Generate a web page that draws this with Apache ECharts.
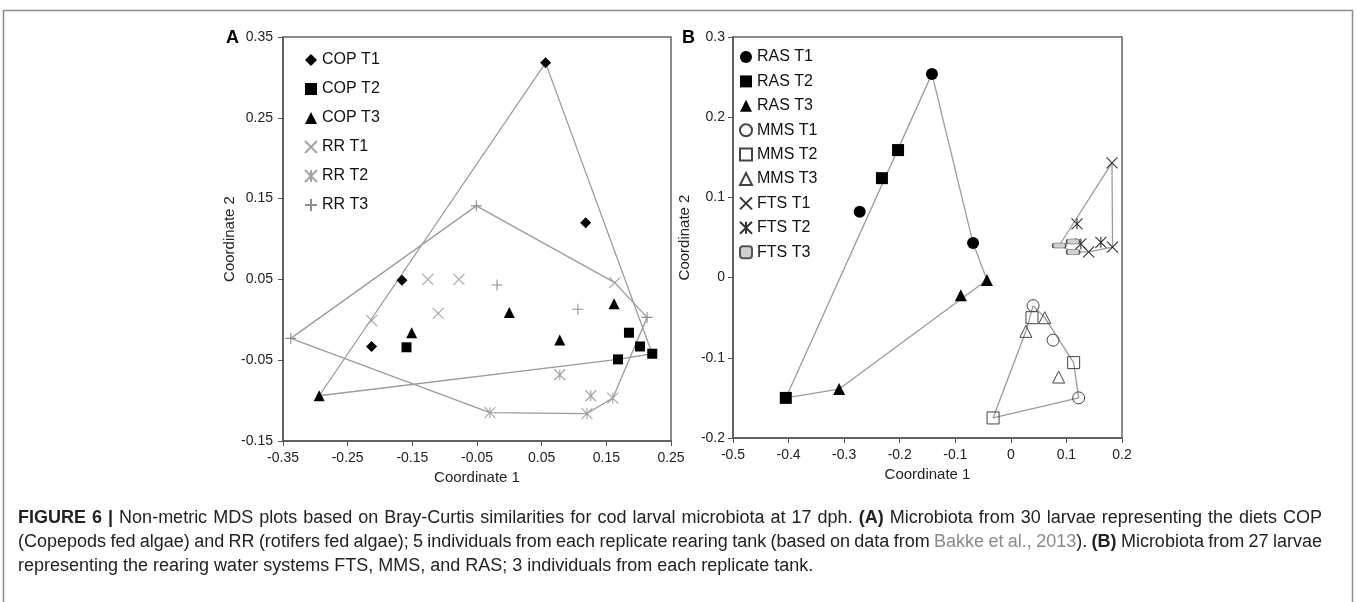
<!DOCTYPE html>
<html><head><meta charset="utf-8">
<script src="https://cdn.jsdelivr.net/npm/echarts@6/dist/echarts.min.js"></script>
<style>html,body{margin:0;padding:0;background:#fff}#c{width:1357px;height:602px}</style>
</head><body><div id="c"></div>
<script>
// ---------- Panel A data (Coordinate 1, Coordinate 2) ----------
const copT1 = [[0.056,0.318],[0.118,0.120],[-0.166,0.049],[-0.213,-0.033]];
const copT2 = [[-0.159,-0.034],[0.185,-0.016],[0.202,-0.033],[0.221,-0.042],[0.168,-0.049]];
const copT3 = [[-0.151,-0.016],[-0.294,-0.094],[0.000,0.009],[0.078,-0.025],[0.162,0.020]];
const rrT1  = [[-0.126,0.050],[-0.078,0.050],[-0.110,0.008],[-0.213,-0.001],[0.163,0.046]];
const rrT2  = [[0.078,-0.068],[0.126,-0.094],[0.160,-0.097],[0.120,-0.116],[-0.030,-0.115]];
const rrT3  = [[-0.338,-0.023],[-0.051,0.141],[-0.019,0.043],[0.106,0.013],[0.213,0.003]];
const copHull = [copT1[0], copT2[3], copT2[4], copT3[1], copT1[0]];
const rrHull  = [rrT3[0], rrT3[1], rrT1[4], rrT3[4], rrT2[2], rrT2[3], rrT2[4], rrT3[0]];
const ticksA_x = [-0.35,-0.25,-0.15,-0.05,0.05,0.15,0.25];
const ticksA_y = [-0.15,-0.05,0.05,0.15,0.25,0.35];

// ---------- Panel B data ----------
const rasT1 = [[-0.142,0.254],[-0.272,0.082],[-0.068,0.043]];
const rasT2 = [[-0.203,0.159],[-0.232,0.124],[-0.405,-0.150]];
const rasT3 = [[-0.043,-0.003],[-0.090,-0.022],[-0.309,-0.139]];
const mmsT1 = [[0.040,-0.035],[0.076,-0.078],[0.122,-0.150]];
const mmsT2 = [[0.038,-0.050],[0.113,-0.106],[-0.032,-0.175]];
const mmsT3 = [[0.061,-0.050],[0.027,-0.067],[0.086,-0.124]];
const ftsT1 = [[0.182,0.143],[0.183,0.038],[0.140,0.032]];
const ftsT2 = [[0.119,0.067],[0.162,0.044],[0.126,0.042]];
const ftsT3 = [[0.087,0.040],[0.112,0.045],[0.112,0.032]];
const rasHull = [rasT1[0], rasT1[2], rasT3[0], rasT3[2], rasT2[2], rasT1[0]];
const mmsHull = [mmsT1[0], mmsT3[0], mmsT2[1], mmsT1[2], mmsT2[2], mmsT3[1], mmsT1[0]];
const ftsHull = [ftsT1[0], ftsT1[1], ftsT1[2], ftsT3[2], ftsT3[0], ftsT1[0]];

const legendA = ['COP T1','COP T2','COP T3','RR T1','RR T2','RR T3'];
const legendB = ['RAS T1','RAS T2','RAS T3','MMS T1','MMS T2','MMS T3','FTS T1','FTS T2','FTS T3'];

// caption: segments [style, text]; b = bold, n = normal, g = grey link
const captionLines = [
  [['b','FIGURE 6 |'],['n',' Non-metric MDS plots based on Bray-Curtis similarities for cod larval microbiota at 17 dph. '],['b','(A)'],['n',' Microbiota from 30 larvae representing the diets COP']],
  [['n','(Copepods fed algae) and RR (rotifers fed algae); 5 individuals from each replicate rearing tank (based on data from '],['g','Bakke et al., 2013'],['n','). '],['b','(B)'],['n',' Microbiota from 27 larvae']],
  [['n','representing the rearing water systems FTS, MMS, and RAS; 3 individuals from each replicate tank.']]
];

const FONT = '"Liberation Sans", Arial, sans-serif';
const CAP_SIZE = 18;
const CAP_LEFT = 18, CAP_RIGHT = 1322, CAP_TOP = 518, CAP_LH = 24;
const HULL = '#9b9b9b';
const CROSS = 'path://M0,0L10,10M0,10L10,0';
const STAR = 'path://M0,0L10,10M0,10L10,0M5,0L5,10';
const PLUS = 'path://M5,0L5,10M0,5L10,5';
const NOFILL = 'rgba(0,0,0,0)';

function sc(name, data, gi, symbol, size, fill, stroke, bw) {
  return {type:'scatter', name, data, xAxisIndex:gi, yAxisIndex:gi, symbol, symbolSize:size,
    itemStyle:{color:fill, borderColor:stroke, borderWidth:bw, opacity:1}, z:4, silent:true};
}
function hull(data, gi) {
  return {type:'line', data, xAxisIndex:gi, yAxisIndex:gi, symbol:'none', silent:true,
    lineStyle:{color:HULL, width:1.3}, z:2};
}
function fmtA(v){ return v.toFixed(2); }
function fmtB(v){ return Math.abs(v) < 1e-9 ? '0' : (+v.toFixed(1)).toString(); }

// ---------- justified caption layout ----------
const mctx = document.createElement('canvas').getContext('2d');
function capFont(st){ return (st === 'b' ? 'bold ' : '') + CAP_SIZE + 'px ' + FONT; }
function capFill(st){ return st === 'g' ? '#8a8a8a' : '#222'; }
function measure(st, txt){ mctx.font = capFont(st); return mctx.measureText(txt).width; }
function toWords(segs){
  const words = []; let cur = [];
  segs.forEach(([st, txt]) => {
    txt.split(' ').forEach((p, i) => {
      if (i > 0) { if (cur.length) words.push(cur); cur = []; }
      if (p) cur.push([st, p]);
    });
  });
  if (cur.length) words.push(cur);
  return words;
}
const captionGraphics = [];
captionLines.forEach((segs, li) => {
  const words = toWords(segs);
  const wWidths = words.map(w => w.reduce((s, [st, t]) => s + measure(st, t), 0));
  const space = measure('n', ' ');
  const natural = wWidths.reduce((a, b) => a + b, 0) + space * (words.length - 1);
  const justify = li < captionLines.length - 1;
  const gap = justify ? space + (CAP_RIGHT - CAP_LEFT - natural) / (words.length - 1) : space;
  let x = CAP_LEFT;
  words.forEach((w, wi) => {
    let px = x;
    w.forEach(([st, t]) => {
      captionGraphics.push({type:'text', x:px, y:CAP_TOP + li * CAP_LH, silent:true,
        style:{text:t, font:capFont(st), fill:capFill(st), verticalAlign:'middle'}});
      px += measure(st, t);
    });
    x += wWidths[wi] + gap;
  });
});

const axisCommon = {
  axisLine:{show:true, onZero:false, lineStyle:{color:'#555', width:1.5}},
  axisTick:{show:true, inside:false, length:5, lineStyle:{color:'#555', width:1}},
  splitLine:{show:false},
  axisLabel:{color:'#222', fontSize:14, fontFamily:FONT},
  nameTextStyle:{color:'#222', fontSize:15, fontFamily:FONT},
  nameLocation:'middle'
};

const option = {
  animation:false,
  backgroundColor:'#fff',
  grid:[
    {left:283, top:37, width:388, height:404, show:true, borderColor:'#666', borderWidth:1.5},
    {left:733, top:37, width:389, height:401, show:true, borderColor:'#666', borderWidth:1.5}
  ],
  xAxis:[
    Object.assign({}, axisCommon, {type:'value', gridIndex:0, min:-0.35, max:0.25, name:'Coordinate 1', nameGap:23,
      axisLabel:Object.assign({}, axisCommon.axisLabel, {margin:10, customValues:ticksA_x, formatter:fmtA}),
      axisTick:Object.assign({}, axisCommon.axisTick, {customValues:ticksA_x})}),
    Object.assign({}, axisCommon, {type:'value', gridIndex:1, min:-0.5, max:0.2, interval:0.1, name:'Coordinate 1', nameGap:24,
      axisLabel:Object.assign({}, axisCommon.axisLabel, {margin:10, formatter:fmtB})})
  ],
  yAxis:[
    Object.assign({}, axisCommon, {type:'value', gridIndex:0, min:-0.15, max:0.35, name:'Coordinate 2', nameGap:37,
      axisLabel:Object.assign({}, axisCommon.axisLabel, {margin:10, customValues:ticksA_y, formatter:fmtA}),
      axisTick:Object.assign({}, axisCommon.axisTick, {customValues:ticksA_y})}),
    Object.assign({}, axisCommon, {type:'value', gridIndex:1, min:-0.2, max:0.3, interval:0.1, name:'Coordinate 2', nameGap:41,
      axisLabel:Object.assign({}, axisCommon.axisLabel, {margin:8, formatter:fmtB})})
  ],
  legend:[
    {data:legendA, orient:'vertical', left:299, top:47, itemWidth:12, itemHeight:12, itemGap:13,
      textStyle:{fontSize:16, color:'#111', fontFamily:FONT}, selectedMode:false},
    {data:legendB, orient:'vertical', left:734, top:44, itemWidth:12, itemHeight:12, itemGap:8.4,
      textStyle:{fontSize:16, color:'#111', fontFamily:FONT}, selectedMode:false}
  ],
  graphic:[
    {type:'rect', shape:{x:3.5, y:10.5, width:1349, height:640}, style:{fill:'none', stroke:'#8c8c8c', lineWidth:1.5}, silent:true},
    {type:'text', left:226, top:29, style:{text:'A', font:'bold 18px ' + FONT, fill:'#000'}},
    {type:'text', left:682, top:29, style:{text:'B', font:'bold 18px ' + FONT, fill:'#000'}}
  ].concat(captionGraphics),
  series:[
    hull(copHull,0), hull(rrHull,0),
    sc('COP T1', copT1, 0, 'diamond', 11, '#000', '#000', 0),
    sc('COP T2', copT2, 0, 'rect', 10, '#000', '#000', 0),
    sc('COP T3', copT3, 0, 'triangle', 11, '#000', '#000', 0),
    sc('RR T1', rrT1, 0, CROSS, 11, NOFILL, '#a3a3a3', 1.1),
    sc('RR T2', rrT2, 0, STAR, 11, NOFILL, '#a3a3a3', 1.1),
    sc('RR T3', rrT3, 0, PLUS, 11, NOFILL, '#8f8f8f', 1.1),
    hull(rasHull,1), hull(mmsHull,1), hull(ftsHull,1),
    sc('RAS T1', rasT1, 1, 'circle', 12, '#000', '#000', 0),
    sc('RAS T2', rasT2, 1, 'rect', 12, '#000', '#000', 0),
    sc('RAS T3', rasT3, 1, 'triangle', 12, '#000', '#000', 0),
    sc('MMS T1', mmsT1, 1, 'circle', 12, NOFILL, '#444', 1),
    sc('MMS T2', mmsT2, 1, 'rect', 12, NOFILL, '#444', 1),
    sc('MMS T3', mmsT3, 1, 'triangle', 12, NOFILL, '#444', 1),
    sc('FTS T1', ftsT1, 1, CROSS, 11, NOFILL, '#333', 1.1),
    sc('FTS T2', ftsT2, 1, STAR, 11, NOFILL, '#333', 1.1),
    sc('FTS T3', ftsT3, 1, 'roundRect', [13,5], '#d0d0d0', '#555', 1)
  ]
};
const chart = echarts.init(document.getElementById('c'));
chart.setOption(option);
</script></body></html>
